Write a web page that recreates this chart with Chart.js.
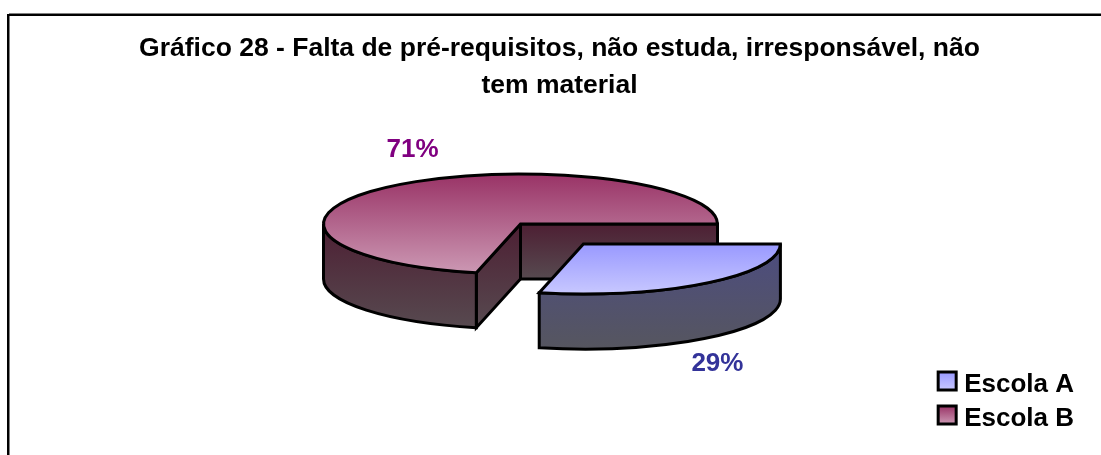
<!DOCTYPE html>
<html>
<head>
<meta charset="utf-8">
<style>
  html, body { margin: 0; padding: 0; background: #fff; }
  #wrap { width: 1101px; height: 455px; }
</style>
<script src="https://cdn.jsdelivr.net/npm/chart.js@4"></script>
</head>
<body>
<div id="wrap"><canvas id="myChart"></canvas></div>
<script>
"use strict";

const categories = ["Escola A", "Escola B"];
const seriesValues = [28.6, 71.4];
const explode = [101, 0];
const titleLines = ["Gráfico 28 - Falta de pré-requisitos, não estuda, irresponsável, não", "tem material"];

const pieCenter = { x: 520.5, y: 224 };
const radius = 197;
const tilt = 50 / 197;
const depth = 55;
const fontFamily = "'Liberation Sans', Arial, sans-serif";

const labelColors = ["#333399", "#800080"];
const labelOffsets = [{ dx: 134, dy: 120 }, { dx: -108, dy: -74 }];
const topColors = [["#9999ff", "#c8c8ff"], ["#993366", "#cc99b4"]];
const wallColors = [["#4c4c80", "#56565f"], ["#4d1f33", "#574a50"]];

function vGradient(ctx, y0, y1, colors) {
  const g = ctx.createLinearGradient(0, y0, 0, y1);
  g.addColorStop(0, colors[0]);
  g.addColorStop(1, colors[1]);
  return g;
}

// where the slice's centre ends up on the page, after exploding and tilting
function sliceCenter(arc, i) {
  const mid = (arc.startAngle + arc.endAngle) / 2;
  return {
    x: pieCenter.x + Math.cos(mid) * explode[i],
    y: pieCenter.y + Math.sin(mid) * explode[i] * tilt,
  };
}

function strokeBlack(ctx) {
  ctx.strokeStyle = "#000";
  ctx.lineWidth = 3;
  ctx.lineJoin = "miter";
  ctx.stroke();
}

function facePath(ctx, points) {
  ctx.beginPath();
  points.forEach((p, n) => (n ? ctx.lineTo(p.x, p.y) : ctx.moveTo(p.x, p.y)));
  ctx.closePath();
}

function drawWalls(ctx, arc, i) {
  const c = sliceCenter(arc, i);
  const r = arc.outerRadius;
  const rimPoint = (a) => ({ x: c.x + Math.cos(a) * r, y: c.y + Math.sin(a) * r * tilt });
  const down = (p) => ({ x: p.x, y: p.y + depth });
  const from = arc.startAngle;
  const to = Math.min(arc.endAngle, Math.PI);

  // the cut faces that look at the viewer (only the big slice shows them)
  if (arc.endAngle - arc.startAngle > Math.PI) {
    const back = rimPoint(arc.endAngle);
    facePath(ctx, [c, back, down(back), down(c)]);
    ctx.fillStyle = vGradient(ctx, c.y, c.y + depth, wallColors[i]);
    ctx.fill();
    strokeBlack(ctx);

    const front = rimPoint(from);
    facePath(ctx, [c, front, down(front), down(c)]);
    ctx.fillStyle = vGradient(ctx, c.y, front.y + depth, wallColors[i]);
    ctx.fill();
    strokeBlack(ctx);
  }

  // outer curved wall
  const end = rimPoint(to);
  ctx.beginPath();
  ctx.ellipse(c.x, c.y, r, r * tilt, 0, from, to);
  ctx.lineTo(end.x, end.y + depth);
  ctx.ellipse(c.x, c.y + depth, r, r * tilt, 0, to, from, true);
  ctx.closePath();
  ctx.fillStyle = vGradient(ctx, c.y, c.y + r * tilt + depth, wallColors[i]);
  ctx.fill();
  strokeBlack(ctx);
}

function drawTop(ctx, arc, i) {
  const c = sliceCenter(arc, i);
  ctx.save();
  ctx.translate(c.x, c.y);
  ctx.scale(1, tilt);
  ctx.translate(-arc.x, -arc.y);
  arc.draw(ctx);
  ctx.restore();

  // outline is stroked without the squash so it keeps an even width
  ctx.beginPath();
  ctx.moveTo(c.x, c.y);
  ctx.ellipse(c.x, c.y, arc.outerRadius, arc.outerRadius * tilt, 0, arc.startAngle, arc.endAngle);
  ctx.closePath();
  strokeBlack(ctx);
}

const pie3d = {
  id: "pie3d",
  beforeDraw(chart) {
    // chart frame: only the top and left edges are inside the picture
    const ctx = chart.ctx;
    ctx.save();
    ctx.fillStyle = "#808080";
    ctx.fillRect(9, 13, chart.width, 1);
    ctx.fillRect(9, 14, 1, chart.height);
    ctx.fillStyle = "#000";
    ctx.fillRect(7, 14, chart.width, 2);
    ctx.fillRect(7, 14, 2, chart.height);
    ctx.restore();
  },
  beforeDatasetDraw(chart, args) {
    const ctx = chart.ctx;
    const arcs = args.meta.data;
    // back to front: big slice first, then the exploded one over it
    const order = [1, 0];
    ctx.save();
    order.forEach((i) => drawWalls(ctx, arcs[i], i));
    order.forEach((i) => drawTop(ctx, arcs[i], i));
    ctx.restore();
    return false;
  },
  afterDatasetsDraw(chart) {
    const ctx = chart.ctx;
    const arcs = chart.getDatasetMeta(0).data;
    ctx.save();
    ctx.font = "bold 26px " + fontFamily;
    ctx.textAlign = "center";
    ctx.textBaseline = "middle";
    arcs.forEach((arc, i) => {
      const c = sliceCenter(arc, i);
      ctx.fillStyle = labelColors[i];
      ctx.fillText(Math.round(seriesValues[i]) + "%", c.x + labelOffsets[i].dx, c.y + labelOffsets[i].dy);
    });
    ctx.restore();
  },
  afterDraw(chart) {
    const ctx = chart.ctx;
    const boxes = chart.legend.legendHitBoxes;
    ctx.save();
    boxes.forEach((b, i) => {
      ctx.fillStyle = vGradient(ctx, b.top, b.top + 18, topColors[i]);
      ctx.fillRect(b.left, b.top, 18, 18);
      ctx.strokeStyle = "#000";
      ctx.lineWidth = 3;
      ctx.strokeRect(b.left, b.top, 18, 18);
    });
    ctx.restore();
  },
};

new Chart(document.getElementById("myChart"), {
  type: "pie",
  data: {
    labels: categories,
    datasets: [
      {
        data: seriesValues,
        borderWidth: 0,
        radius: radius,
        backgroundColor(context) {
          const i = context.dataIndex;
          const area = context.chart.chartArea;
          if (!area) return topColors[i][0];
          const cy = (area.top + area.bottom) / 2;
          // the small slice only covers the lower half of the circle
          const top = seriesValues[i] > 50 ? cy - radius : cy;
          return vGradient(context.chart.ctx, top, cy + radius, topColors[i]);
        },
      },
    ],
  },
  options: {
    responsive: true,
    maintainAspectRatio: false,
    animation: false,
    rotation: 90,
    layout: { padding: { left: 35, right: 17, top: 0, bottom: 15 } },
    plugins: {
      title: {
        display: true,
        text: titleLines,
        color: "#000",
        font: { family: fontFamily, size: 26.5, weight: "bold", lineHeight: 1.39 },
        padding: { top: 30, bottom: 10 },
      },
      legend: {
        position: "right",
        align: "end",
        labels: {
          boxWidth: 13,
          boxHeight: 18,
          padding: 8,
          color: "#000",
          font: { family: fontFamily, size: 26, weight: "bold" },
          generateLabels(chart) {
            return chart.data.labels.map((text, index) => ({
              text,
              index,
              fillStyle: "rgba(0,0,0,0)",
              strokeStyle: "rgba(0,0,0,0)",
              lineWidth: 0,
            }));
          },
        },
      },
      tooltip: { enabled: false },
    },
  },
  plugins: [pie3d],
});
</script>
</body>
</html>
